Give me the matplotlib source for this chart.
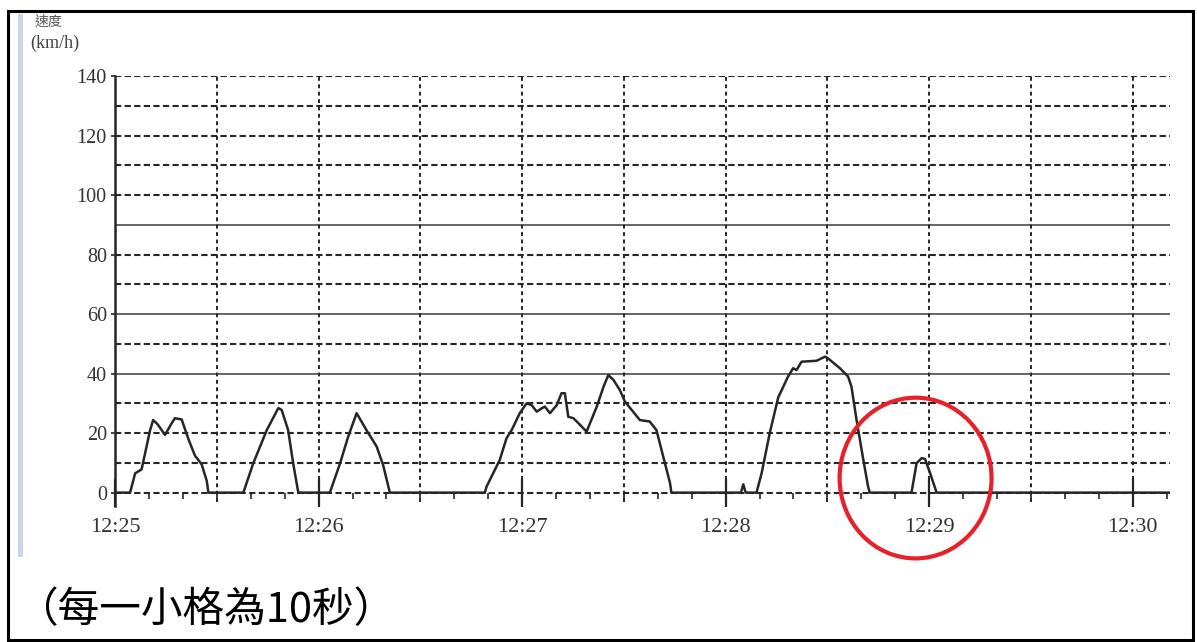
import numpy as np
import matplotlib.pyplot as plt
from matplotlib.patches import Ellipse, Rectangle

# 速度紀錄 (秒, 由 12:25 起算) 與速度 (km/h)
sec = [0, 4.4, 5.9, 7.8, 10.3, 11.2, 12.5, 14.7, 16.5, 17.6, 19.6, 21.6, 23.5, 25.5, 27, 27.5,
       37.8, 40.7, 44.7, 48.1, 49.1, 51, 52.5, 54,
       63.3, 66.3, 68.7, 71.2, 74.1, 77.1, 79, 81,
       109, 109.5, 113.4, 115.4, 116.9, 119.3, 121.3, 122.8, 124.3, 125.7, 126.7, 128.2, 130.2,
       131.6, 132.6, 133.6, 135.1, 136.1, 139, 142, 144, 145.4, 146.9, 148.8, 150.3, 154.7,
       157.6, 159.6, 161.6, 163.6, 164,
       184.5, 185.2, 185.9,
       189.1, 190.6, 193, 195.5, 197, 198.4, 199.9, 200.9, 202.4, 206.8, 209.3, 210.2, 213.7,
       216.1, 217.1, 218.6, 220.6, 222, 222.5,
       234.8, 236.3, 237.8, 238.8, 240.3, 242.2, 311]
speed = [0, 0, 6.5, 7.8, 21, 24.4, 23, 19.4, 23, 25, 24.6, 18, 12.5, 9.5, 4, 0,
         0, 9.8, 21, 28.4, 27.8, 21, 9.8, 0,
         0, 9.8, 18.8, 26.7, 21, 15.5, 9.3, 0,
         0, 2, 11, 18.3, 21, 26.7, 30, 29.4, 27.2, 28.3, 28.9, 26.7, 29.4,
         33.4, 33.4, 25.5, 25, 23.9, 20.5, 28.9, 35.6, 39.5, 37.9, 34.5, 30.6, 24.4,
         23.9, 21, 12.1, 3.2, 0,
         0, 2.8, 0,
         0, 6.5, 20, 32, 35.6, 39, 41.8, 41.2, 44, 44.3, 45.7, 45.1, 41.8,
         39, 35.6, 24.4, 11, 2, 0,
         0, 9.9, 11.6, 11.3, 6.5, 0, 0]

time_labels = ['12:25', '12:26', '12:27', '12:28', '12:29', '12:30']
dashed_rows = [0, 10, 20, 30, 50, 70, 80, 100, 110, 120, 130, 140]
solid_rows = [40, 60, 90]
dashed_cols = [30, 60, 90, 120, 150, 180, 210, 240, 270, 300]

# 紅圈標示
mark_center = (236, 4.9)
mark_w, mark_h = 44.8, 54

ink = '#262626'

fig = plt.figure(figsize=(11.97, 6.42), dpi=100)
ax = fig.add_axes([0.0962, 0.2118, 0.8812, 0.6698])
ax.set_xlim(0, 311)
ax.set_ylim(-4.5, 140)

ax.hlines(dashed_rows, 0, 311, colors=ink, lw=1.5, linestyles=(0, (3, 1.6)))
ax.hlines(solid_rows, 0, 311, colors='#3a3a3a', lw=1.1)
ax.vlines(dashed_cols, -3, 140, colors=ink, lw=1.4, linestyles=(0, (2, 1.8)))

ax.plot(sec, speed, color=ink, lw=1.8, solid_joinstyle='round')

ax.add_patch(Ellipse(mark_center, mark_w, mark_h, fill=False, ec='#e8202a',
                     lw=3, clip_on=False, zorder=5))

for s in ['top', 'right']:
    ax.spines[s].set_visible(False)
ax.spines['bottom'].set_position(('data', 0))
ax.spines['bottom'].set_color('none')
ax.spines['left'].set_color(ink)
ax.spines['left'].set_linewidth(1.8)

ax.set_xticks(np.arange(0, 301, 60))
ax.set_xticklabels(time_labels)
ax.set_xticks(np.arange(0, 311, 10), minor=True)
ax.tick_params(axis='x', which='major', direction='inout', length=20, width=1.6,
               color=ink, pad=8, labelsize=16, labelcolor='#333333')
ax.tick_params(axis='x', which='minor', direction='out', length=4, width=1.2, color=ink)
ax.set_yticks(np.arange(0, 141, 20))
ax.tick_params(axis='y', direction='out', length=3, width=1.2, color=ink, pad=3,
               labelsize=14.5, labelcolor='#333333')
for lab in ax.get_xticklabels() + ax.get_yticklabels():
    lab.set_family('Liberation Serif')

fig.text(0.029, 0.966, '速度', family=['Noto Sans CJK TC'], fontsize=10, color='#555555',
         va='center')
fig.text(0.025, 0.933, '(km/h)', family='Liberation Serif', fontsize=13, color='#444444',
         va='center')

fig.text(0.013, 0.049, '（每一小格為10秒）', family=['Noto Sans CJK TC', 'DejaVu Sans'],
         fontsize=30, color='black', va='center')

# 外框與左側淺藍條
fig.add_artist(Rectangle((0.0065, 0.003), 0.99, 0.98, transform=fig.transFigure,
                         fill=False, ec='black', lw=2.2))
fig.add_artist(Rectangle((0.0152, 0.133), 0.0043, 0.845, transform=fig.transFigure,
                         fc='#c9d5ea', ec='none'))

fig.savefig('out.png', dpi=100)
